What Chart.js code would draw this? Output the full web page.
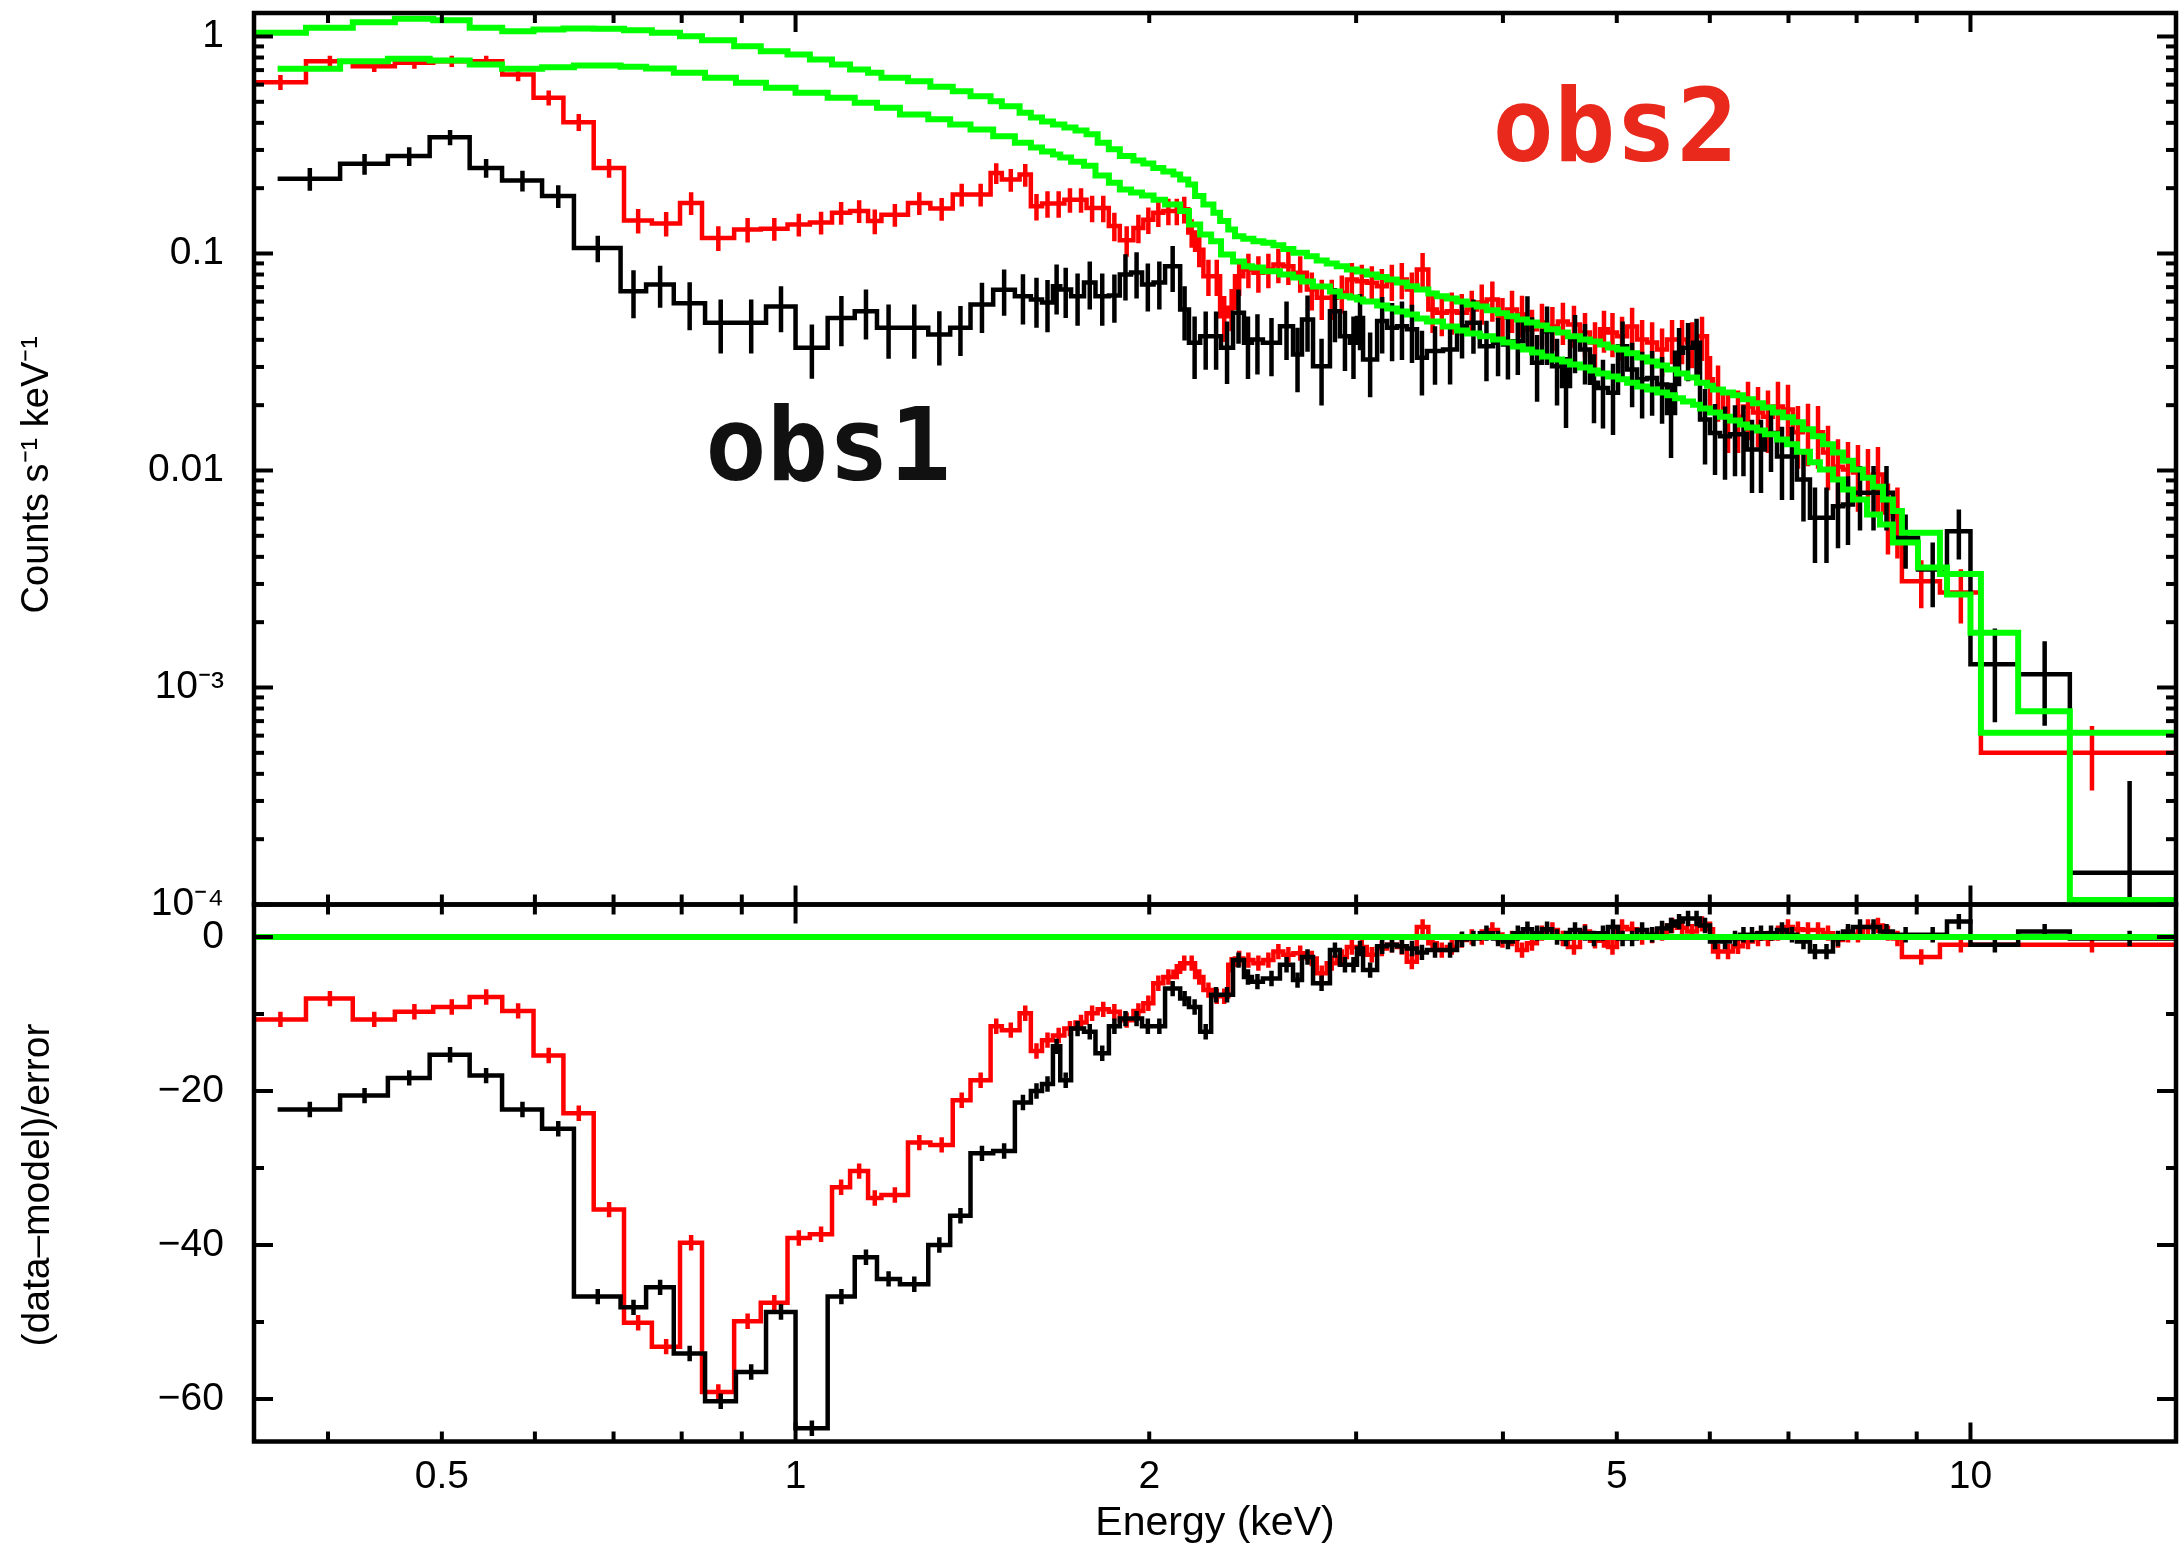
<!DOCTYPE html>
<html>
<head>
<meta charset="utf-8">
<script src="https://cdn.jsdelivr.net/npm/chart.js@4.4.1/dist/chart.umd.min.js"></script>
<style>
html,body{margin:0;padding:0;background:#fff;}
#wrap{position:relative;width:2180px;height:1548px;background:#fff;}
canvas{position:absolute;left:0;top:0;}
</style>
</head>
<body>
<div id="wrap">
<canvas id="bot" width="2180" height="1548"></canvas>
<canvas id="top" width="2180" height="1548"></canvas>
</div>
<script>
// ---------------- axis ranges & ticks ----------------
const X_MIN = 0.346, X_MAX = 14.96;
const Y_TOP_MIN = 1e-4, Y_TOP_MAX = 1.283;
const Y_BOT_MIN = -65.52, Y_BOT_MAX = 4.22;

const xTickValues = [0.5, 1, 2, 5, 10];
const xTickLabels = ['0.5', '1', '2', '5', '10'];
const xMajorMarks = [1, 10];
const xMinorMarks = [0.4, 0.5, 0.6, 0.7, 0.8, 0.9, 2, 3, 4, 5, 6, 7, 8, 9];

const yTopTickValues = [1, 0.1, 0.01, 0.001, 0.0001];
const yTopTickLabels = ['1', '0.1', '0.01', '10\u207B\u00B3', '10\u207B\u2074'];
const yTopMinorMarks = [0.0002,0.0003,0.0004,0.0005,0.0006,0.0007,0.0008,0.0009,
  0.002,0.003,0.004,0.005,0.006,0.007,0.008,0.009,
  0.02,0.03,0.04,0.05,0.06,0.07,0.08,0.09,
  0.2,0.3,0.4,0.5,0.6,0.7,0.8,0.9];

const yBotTickValues = [0, -20, -40, -60];
const yBotTickLabels = ['0', '\u221220', '\u221240', '\u221260'];
const yBotMinorMarks = [-10, -30, -50];

// ---------------- obs1 (black) ----------------
const obs1Edges = [0.3624, 0.4096, 0.4498, 0.4882, 0.5280, 0.5626, 0.6085, 0.6477, 0.7097, 0.7461,
 0.7877, 0.8375, 0.8897, 0.9438, 1.000, 1.065, 1.123, 1.173, 1.227, 1.297,
 1.354, 1.409, 1.473, 1.537, 1.586, 1.621, 1.656, 1.680, 1.716, 1.760,
 1.800, 1.848, 1.888, 1.930, 1.972, 2.017, 2.063, 2.125, 2.162, 2.210,
 2.258, 2.302, 2.357, 2.408, 2.446, 2.499, 2.584, 2.651, 2.698, 2.757,
 2.850, 2.906, 2.964, 3.005, 3.041, 3.126, 3.188, 3.250, 3.314, 3.380,
 3.446, 3.557, 3.656, 3.728, 3.823, 3.923, 4.001, 4.078, 4.159, 4.235,
 4.319, 4.404, 4.491, 4.562, 4.652, 4.744, 4.819, 4.914, 5.012, 5.102,
 5.203, 5.306, 5.411, 5.517, 5.605, 5.693, 5.806, 5.886, 6.002, 6.121,
 6.242, 6.365, 6.453, 6.581, 6.685, 6.844, 6.979, 7.117, 7.301, 7.445,
 7.638, 7.789, 7.943, 8.164, 8.375, 8.590, 9.023, 9.550, 10.00, 10.98,
 12.15, 15.17];

const obs1Rate = [0.221, 0.259, 0.281, 0.343, 0.248, 0.217, 0.184, 0.106, 0.067, 0.072,
 0.059, 0.048, 0.048, 0.057, 0.0368, 0.0505, 0.0542, 0.0455, 0.0455, 0.0423,
 0.0455, 0.0582, 0.068, 0.0636, 0.0614, 0.0594, 0.0707, 0.0682, 0.0636, 0.0735,
 0.0636, 0.0640, 0.0800, 0.0817, 0.0720, 0.0735, 0.0874, 0.0552, 0.0388, 0.0416,
 0.0416, 0.0368, 0.0533, 0.0388, 0.0401, 0.0388, 0.0462, 0.0342, 0.0496, 0.0302,
 0.0542, 0.0416, 0.0388, 0.0505, 0.0325, 0.0488, 0.0455, 0.0462, 0.0447, 0.0331,
 0.0355, 0.0361, 0.0462, 0.0479, 0.0374, 0.0388, 0.0381, 0.0394, 0.0496, 0.0314,
 0.0438, 0.0302, 0.0245, 0.0401, 0.0361, 0.0254, 0.0240, 0.0228, 0.0374, 0.0292,
 0.0263, 0.0267, 0.0249, 0.0184, 0.0349, 0.0368, 0.0388, 0.0172, 0.0149, 0.0144,
 0.0147, 0.0147, 0.0125, 0.0125, 0.0149, 0.0116, 0.0116, 0.00909, 0.00605, 0.00605,
 0.00685, 0.00697, 0.00789, 0.00789, 0.00789, 0.00490, 0.00350, 0.00525, 0.00128, 0.00115,
 0.000140];

const obs1RelErr = [0.12, 0.11, 0.10, 0.08, 0.10, 0.11, 0.12, 0.14, 0.25, 0.22,
 0.25, 0.28, 0.28, 0.24, 0.28, 0.26, 0.26, 0.28, 0.28, 0.28,
 0.26, 0.26, 0.24, 0.26, 0.26, 0.27, 0.26, 0.26, 0.27, 0.25,
 0.27, 0.25, 0.24, 0.24, 0.25, 0.25, 0.24, 0.28, 0.32, 0.30,
 0.30, 0.32, 0.28, 0.32, 0.31, 0.30, 0.30, 0.33, 0.29, 0.34,
 0.28, 0.31, 0.32, 0.29, 0.33, 0.29, 0.30, 0.30, 0.30, 0.33,
 0.30, 0.31, 0.29, 0.28, 0.31, 0.30, 0.31, 0.30, 0.28, 0.34,
 0.30, 0.34, 0.36, 0.30, 0.31, 0.35, 0.35, 0.36, 0.30, 0.33,
 0.34, 0.33, 0.34, 0.38, 0.30, 0.30, 0.29, 0.38, 0.36, 0.37,
 0.36, 0.36, 0.37, 0.37, 0.34, 0.37, 0.37, 0.36, 0.38, 0.38,
 0.36, 0.35, 0.33, 0.33, 0.33, 0.28, 0.33, 0.26, 0.46, 0.42,
 1.65];

const obs1Model = [0.710, 0.769, 0.789, 0.775, 0.743, 0.710, 0.722, 0.735, 0.725, 0.712,
 0.680, 0.645, 0.612, 0.580, 0.550, 0.522, 0.495, 0.469, 0.437, 0.415,
 0.393, 0.373, 0.347, 0.324, 0.308, 0.295, 0.286, 0.277, 0.265, 0.254,
 0.229, 0.212, 0.197, 0.191, 0.185, 0.177, 0.168, 0.157, 0.136, 0.1224,
 0.1139, 0.0990, 0.0918, 0.0874, 0.0862, 0.0829, 0.0800, 0.0775, 0.0743, 0.0705,
 0.0668, 0.0636, 0.0627, 0.0614, 0.0601, 0.0576, 0.0558, 0.0540, 0.0524, 0.0502,
 0.0486, 0.0461, 0.0442, 0.0428, 0.0415, 0.0401, 0.0389, 0.0373, 0.0361, 0.0350,
 0.0335, 0.0325, 0.0318, 0.0308, 0.0298, 0.0289, 0.0280, 0.0271, 0.0263, 0.0254,
 0.0244, 0.0236, 0.0229, 0.0222, 0.0215, 0.0208, 0.0201, 0.0193, 0.0185, 0.0177,
 0.0170, 0.0163, 0.0158, 0.0153, 0.0147, 0.0139, 0.0132, 0.0122, 0.0109, 0.0101,
 0.00909, 0.00818, 0.00735, 0.00627, 0.00564, 0.00466, 0.00357, 0.00268, 0.00179, 0.000778,
 0.000105];

const obs1Resid = [-22.4, -20.6, -18.3, -15.3, -18.0, -22.4, -24.9, -46.7, -48.1, -45.5,
 -54.1, -60.3, -56.5, -48.7, -63.8, -46.7, -41.6, -44.4, -45.1, -40.0,
 -36.2, -28.1, -27.8, -21.5, -20.0, -19.1, -14.2, -18.6, -11.9, -12.3,
 -15.1, -11.6, -10.6, -10.6, -11.6, -11.6, -6.7, -8.0, -9.1, -12.3,
 -7.5, -7.5, -3.0, -5.2, -5.8, -5.4, -3.6, -5.6, -2.6, -6.0,
 -1.7, -3.6, -3.6, -1.5, -4.3, -1.2, -1.0, -1.2, -1.5, -2.0,
 -1.7, -1.7, -0.3, -0.2, 0.5, -0.2, -0.6, 0.5, 1.0, 0.5,
 1.0, 0.0, -0.2, 0.9, 0.5, -0.2, 0.5, 1.3, -0.2, -0.2,
 0.9, 0.3, 1.1, 1.5, 2.0, 2.4, 2.4, 1.5, -0.6, -0.6,
 -0.2, 0.3, 0.3, 0.5, 0.5, 0.9, 0.3, -0.6, -1.9, -1.9,
 -0.2, 0.7, 1.3, 1.3, 0.7, 0.3, 0.3, 2.0, -1.0, 0.7,
 -0.2];

// ---------------- obs2 (red) ----------------
const obs2Edges = [0.3457, 0.3831, 0.4199, 0.4560, 0.4916, 0.5280, 0.5628, 0.5984, 0.6345, 0.6733,
 0.7145, 0.7546, 0.7974, 0.8325, 0.8866, 0.9341, 0.9844, 1.0285, 1.0741, 1.1128,
 1.1527, 1.1833, 1.2465, 1.3024, 1.3608, 1.409, 1.4656, 1.4982, 1.5513, 1.5859,
 1.621, 1.656, 1.6935, 1.7309, 1.7688, 1.8077, 1.8477, 1.888, 1.939, 1.977,
 2.016, 2.056, 2.097, 2.125, 2.159, 2.188, 2.224, 2.268, 2.298, 2.335,
 2.366, 2.405, 2.453, 2.501, 2.551, 2.601, 2.653, 2.724, 2.777, 2.832,
 2.888, 2.946, 3.004, 3.063, 3.124, 3.186, 3.249, 3.313, 3.379, 3.456,
 3.514, 3.583, 3.654, 3.726, 3.800, 3.875, 3.961, 4.032, 4.112, 4.193,
 4.276, 4.360, 4.455, 4.543, 4.652, 4.744, 4.838, 4.914, 5.002, 5.102,
 5.203, 5.306, 5.411, 5.517, 5.627, 5.738, 5.851, 5.967, 6.038, 6.157,
 6.279, 6.403, 6.530, 6.659, 6.790, 6.925, 7.062, 7.201, 7.345, 7.490,
 7.638, 7.789, 7.943, 8.100, 8.260, 8.424, 8.590, 8.743, 9.419, 10.207,
 15.17];

const obs2Rate = [0.616, 0.769, 0.730, 0.756, 0.769, 0.769, 0.668, 0.522, 0.403, 0.248,
 0.142, 0.1375, 0.171, 0.118, 0.129, 0.130, 0.136, 0.139, 0.154, 0.157,
 0.141, 0.151, 0.171, 0.161, 0.187, 0.187, 0.235, 0.219, 0.231, 0.165,
 0.170, 0.170, 0.177, 0.177, 0.162, 0.162, 0.134, 0.115, 0.131, 0.143,
 0.154, 0.157, 0.157, 0.160, 0.125, 0.104, 0.0786, 0.0786, 0.0514, 0.0562,
 0.0786, 0.0844, 0.0815, 0.0844, 0.0890, 0.0874, 0.0815, 0.0682, 0.0625, 0.0625,
 0.0659, 0.0759, 0.0745, 0.0733, 0.0707, 0.0745, 0.0759, 0.0682, 0.0844, 0.0552,
 0.0533, 0.0542, 0.0533, 0.0552, 0.0594, 0.0614, 0.0507, 0.0552, 0.0524, 0.0447,
 0.0481, 0.0461, 0.0486, 0.0471, 0.0432, 0.0389, 0.0447, 0.0432, 0.0415, 0.0461,
 0.0401, 0.0389, 0.0361, 0.0401, 0.0401, 0.0389, 0.0415, 0.0263, 0.0236, 0.0177,
 0.0177, 0.0197, 0.0185, 0.0177, 0.0197, 0.0191, 0.0150, 0.0154, 0.0150, 0.0121,
 0.0104, 0.0101, 0.00979, 0.00938, 0.00958, 0.00640, 0.00614, 0.00309, 0.00274, 0.000500];

const obs2RelErr = [0.08, 0.06, 0.06, 0.06, 0.06, 0.06, 0.07, 0.08, 0.09, 0.10,
 0.13, 0.13, 0.12, 0.13, 0.13, 0.12, 0.12, 0.12, 0.12, 0.12,
 0.13, 0.12, 0.12, 0.12, 0.12, 0.12, 0.11, 0.12, 0.12, 0.14,
 0.14, 0.14, 0.13, 0.13, 0.14, 0.14, 0.15, 0.16, 0.15, 0.14,
 0.14, 0.14, 0.14, 0.14, 0.15, 0.17, 0.19, 0.19, 0.24, 0.22,
 0.19, 0.18, 0.19, 0.18, 0.18, 0.18, 0.19, 0.20, 0.21, 0.21,
 0.20, 0.19, 0.19, 0.19, 0.20, 0.19, 0.19, 0.20, 0.19, 0.22,
 0.22, 0.22, 0.22, 0.22, 0.21, 0.21, 0.23, 0.22, 0.22, 0.23,
 0.22, 0.23, 0.22, 0.22, 0.23, 0.24, 0.22, 0.23, 0.23, 0.22,
 0.23, 0.24, 0.25, 0.23, 0.23, 0.24, 0.23, 0.28, 0.29, 0.32,
 0.32, 0.30, 0.31, 0.32, 0.30, 0.30, 0.32, 0.32, 0.32, 0.33,
 0.34, 0.34, 0.34, 0.34, 0.34, 0.36, 0.36, 0.25, 0.28, 0.33];

const obs2Model = [1.040, 1.097, 1.164, 1.206, 1.189, 1.097, 1.058, 1.077, 1.089, 1.085,
 1.069, 1.040, 1.003, 0.961, 0.902, 0.856, 0.826, 0.783, 0.743, 0.705,
 0.680, 0.645, 0.622, 0.586, 0.560, 0.531, 0.503, 0.477, 0.445, 0.423,
 0.406, 0.393, 0.381, 0.369, 0.354, 0.324, 0.302, 0.281, 0.268, 0.260,
 0.248, 0.239, 0.231, 0.219, 0.208, 0.184, 0.168, 0.154, 0.141, 0.129,
 0.120, 0.117, 0.114, 0.112, 0.109, 0.105, 0.1007, 0.0970, 0.0929, 0.0900,
 0.0874, 0.0844, 0.0826, 0.0800, 0.0779, 0.0759, 0.0735, 0.0707, 0.0682, 0.0654,
 0.0636, 0.0620, 0.0601, 0.0582, 0.0570, 0.0547, 0.0530, 0.0514, 0.0496, 0.0481,
 0.0466, 0.0447, 0.0432, 0.0415, 0.0401, 0.0393, 0.0381, 0.0369, 0.0361, 0.0347,
 0.0332, 0.0318, 0.0305, 0.0292, 0.0280, 0.0268, 0.0254, 0.0246, 0.0236, 0.0229,
 0.0222, 0.0213, 0.0204, 0.0195, 0.0185, 0.0176, 0.0167, 0.0155, 0.0144, 0.0132,
 0.0121, 0.0111, 0.0101, 0.00925, 0.00841, 0.00735, 0.00650, 0.00516, 0.00333, 0.000618];

const obs2Resid = [-10.7, -8.0, -10.7, -9.7, -9.1, -7.8, -9.6, -15.4, -22.9, -35.4,
 -50.1, -53.2, -39.7, -59.1, -49.9, -47.5, -39.1, -38.6, -32.5, -30.4,
 -33.9, -33.5, -26.7, -27.0, -21.2, -18.6, -11.6, -12.1, -9.9, -14.8,
 -13.4, -12.8, -11.9, -11.1, -9.9, -9.4, -9.7, -10.8, -9.6, -8.6,
 -6.0, -5.2, -4.5, -3.4, -3.4, -5.2, -6.9, -7.7, -7.7, -3.6,
 -2.8, -3.0, -3.4, -3.0, -1.9, -2.3, -2.1, -2.8, -4.7, -3.4,
 -2.6, -1.3, -1.3, -2.3, -1.5, -1.0, -1.3, -3.2, 1.3, -0.8,
 -1.7, -1.3, -0.4, 0.0, 0.0, 0.9, -0.4, -0.2, -1.7, -0.8,
 0.5, 0.9, -0.2, -1.3, 0.7, -0.5, -0.4, -1.3, 1.3, 1.0,
 0.0, 0.2, 0.5, 1.5, 1.2, 0.7, 1.7, 1.0, -1.9, -1.9,
 -1.2, -0.6, -0.2, -0.2, 0.5, 1.3, 1.0, 0.9, 0.9, 0.5,
 -0.4, 0.3, 0.3, 1.3, 1.5, 0.5, -0.2, -2.6, -1.0, -1.0];

const residErr = 1;          // (data-model)/error bars are +/-1 sigma
const zeroLevel = [0, 0];    // green zero line of the residual panel

// hand-written labels: text, energy (keV) of left edge, rate at baseline
const noteText = ['obs1', 'obs2'];
const noteE = [0.838, 3.92];
const noteV = [0.0090, 0.266];

// ---------------- helpers ----------------
const GREEN = '#00FF00', RED = '#FF0000', BLACK = '#000000';

function histPoints(edges, vals) {
  const pts = vals.map((v, i) => ({x: edges[i], y: v}));
  pts.push({x: edges[edges.length - 1], y: vals[vals.length - 1]});
  return pts;
}
function errPoints(edges, vals, lo, hi) {
  const pts = [];
  vals.forEach((v, i) => {
    const c = (edges[i] + edges[i + 1]) / 2;
    pts.push({x: c, y: lo(v, i)}, {x: c, y: hi(v, i)}, {x: c, y: null});
  });
  return pts;
}

const framePlugin = {
  id: 'frame',
  afterDatasetsDraw(chart, args, o) {
    const {ctx, chartArea: a} = chart;
    const xs = chart.scales.x, ys = chart.scales.y;
    ctx.save();
    ctx.strokeStyle = '#000';
    ctx.lineCap = 'butt';
    ctx.lineWidth = o.tickWidth;
    const seg = (x1, y1, x2, y2) => { ctx.beginPath(); ctx.moveTo(x1, y1); ctx.lineTo(x2, y2); ctx.stroke(); };
    const xt = (vals, len) => vals.forEach(v => {
      const p = xs.getPixelForValue(v);
      if (p < a.left || p > a.right) return;
      seg(p, a.bottom, p, a.bottom - len); seg(p, a.top, p, a.top + len);
    });
    const yt = (vals, len) => vals.forEach(v => {
      const p = ys.getPixelForValue(v);
      if (p < a.top - 1 || p > a.bottom + 1) return;
      seg(a.left, p, a.left + len, p); seg(a.right, p, a.right - len, p);
    });
    xt(o.xMinor, o.minorLen); xt(o.xMajor, o.majorLen);
    yt(o.yMinor, o.minorLen); yt(o.yMajor, o.majorLen);
    ctx.lineWidth = o.frameWidth;
    ctx.strokeRect(a.left, a.top, a.right - a.left, a.bottom - a.top);
    // rotated y-axis title
    if (o.yTitle) {
      ctx.save();
      ctx.translate(o.yTitleX, (a.top + a.bottom) / 2 + o.yTitleShift);
      ctx.rotate(-Math.PI / 2);
      ctx.font = o.yTitleFont;
      ctx.fillStyle = '#000';
      ctx.textAlign = 'center';
      ctx.textBaseline = 'middle';
      ctx.fillText(o.yTitle, 0, 0);
      ctx.restore();
    }
    ctx.restore();
  }
};

const notePlugin = {
  id: 'notes',
  afterDatasetsDraw(chart, args, o) {
    if (!o.items) return;
    const {ctx} = chart;
    const xs = chart.scales.x, ys = chart.scales.y;
    ctx.save();
    o.items.forEach(it => {
      ctx.font = it.font;
      ctx.fillStyle = it.color;
      ctx.textAlign = 'left';
      ctx.textBaseline = 'alphabetic';
      ctx.fillText(it.text, xs.getPixelForValue(it.e), ys.getPixelForValue(it.v));
    });
    ctx.restore();
  }
};

const FONT = "'Liberation Sans', Arial, Helvetica, sans-serif";
Chart.defaults.font.family = FONT;
Chart.defaults.color = '#000';

const zeroPads = s => { s.paddingTop = 0; s.paddingBottom = 0; s.paddingLeft = 0; s.paddingRight = 0; };

function baseOptions() {
  return {
    responsive: false, animation: false, devicePixelRatio: 1, events: [],
    elements: {point: {radius: 0, hoverRadius: 0}, line: {tension: 0, borderCapStyle: 'butt', borderJoinStyle: 'miter'}},
  };
}

// ---------------- top panel ----------------
const dataLineW = 4.5, modelLineW = 6;
new Chart(document.getElementById('top'), {
  type: 'line',
  data: {datasets: [
    {label: 'model obs2', data: histPoints(obs2Edges, obs2Model), borderColor: GREEN, borderWidth: modelLineW, stepped: true, order: 0},
    {label: 'model obs1', data: histPoints(obs1Edges, obs1Model), borderColor: GREEN, borderWidth: modelLineW, stepped: true, order: 1},
    {label: 'obs1 err', data: errPoints(obs1Edges, obs1Rate, (v, i) => Math.max(v - v * obs1RelErr[i], 1e-7), (v, i) => v + v * obs1RelErr[i]), borderColor: BLACK, borderWidth: dataLineW, order: 2},
    {label: 'obs1', data: histPoints(obs1Edges, obs1Rate), borderColor: BLACK, borderWidth: dataLineW, stepped: true, order: 3},
    {label: 'obs2 err', data: errPoints(obs2Edges, obs2Rate, (v, i) => Math.max(v - v * obs2RelErr[i], 1e-7), (v, i) => v + v * obs2RelErr[i]), borderColor: RED, borderWidth: dataLineW, order: 4},
    {label: 'obs2', data: histPoints(obs2Edges, obs2Rate), borderColor: RED, borderWidth: dataLineW, stepped: true, order: 5}
  ]},
  options: Object.assign(baseOptions(), {
    layout: {padding: {left: 0, top: 13, right: 4, bottom: 1548 - 904.5}},
    scales: {
      x: {type: 'logarithmic', min: X_MIN, max: X_MAX, bounds: 'data', display: false},
      y: {type: 'logarithmic', min: Y_TOP_MIN, max: Y_TOP_MAX, bounds: 'data', position: 'left',
        afterFit: s => { s.width = 254; zeroPads(s); },
        afterBuildTicks: s => { s.ticks = yTopTickValues.map(v => ({value: v})); },
        grid: {display: false, drawTicks: false}, border: {display: false},
        ticks: {autoSkip: false, padding: 30, font: {size: 39}, callback: (v, i) => yTopTickLabels[i]},
        title: {display: false}
      }
    },
    plugins: {
      legend: {display: false}, tooltip: {enabled: false},
      frame: {xMajor: xMajorMarks, xMinor: xMinorMarks, yMajor: yTopTickValues, yMinor: yTopMinorMarks,
              majorLen: 19, minorLen: 10, tickWidth: 4, frameWidth: 4.5,
              yTitle: 'Counts s\u207B\u00B9 keV\u207B\u00B9', yTitleX: 38, yTitleShift: 16, yTitleFont: '38px ' + FONT},
      notes: {items: [
        {text: noteText[0], e: noteE[0], v: noteV[0], color: '#111111', font: "bold 102px 'DejaVu Sans Mono'"},
        {text: noteText[1], e: noteE[1], v: noteV[1], color: '#E8291C', font: "bold 102px 'DejaVu Sans Mono'"}
      ]}
    }
  }),
  plugins: [framePlugin, notePlugin]
});

// ---------------- bottom panel ----------------
new Chart(document.getElementById('bot'), {
  type: 'line',
  data: {datasets: [
    {label: 'zero', data: [{x: X_MIN, y: zeroLevel[0]}, {x: X_MAX, y: zeroLevel[1]}], borderColor: GREEN, borderWidth: modelLineW, order: 0},
    {label: 'obs1 res err', data: errPoints(obs1Edges, obs1Resid, v => v - residErr, v => v + residErr), borderColor: BLACK, borderWidth: dataLineW, order: 1},
    {label: 'obs1 res', data: histPoints(obs1Edges, obs1Resid), borderColor: BLACK, borderWidth: dataLineW, stepped: true, order: 2},
    {label: 'obs2 res err', data: errPoints(obs2Edges, obs2Resid, v => v - residErr, v => v + residErr), borderColor: RED, borderWidth: dataLineW, order: 3},
    {label: 'obs2 res', data: histPoints(obs2Edges, obs2Resid), borderColor: RED, borderWidth: dataLineW, stepped: true, order: 4}
  ]},
  options: Object.assign(baseOptions(), {
    layout: {padding: {left: 0, top: 904.5, right: 4, bottom: 0}},
    scales: {
      x: {type: 'logarithmic', min: X_MIN, max: X_MAX, bounds: 'data', position: 'bottom',
        afterFit: s => { s.height = 106.5; zeroPads(s); },
        afterBuildTicks: s => { s.ticks = xTickValues.map(v => ({value: v})); },
        grid: {display: false, drawTicks: false}, border: {display: false},
        ticks: {autoSkip: false, maxRotation: 0, padding: 12, font: {size: 39}, callback: (v, i) => xTickLabels[i]},
        title: {display: true, text: 'Energy (keV)', font: {size: 41}, padding: {top: 0, bottom: 0}}
      },
      y: {type: 'linear', min: Y_BOT_MIN, max: Y_BOT_MAX, bounds: 'data', position: 'left',
        afterFit: s => { s.width = 254; zeroPads(s); },
        afterBuildTicks: s => { s.ticks = yBotTickValues.map(v => ({value: v})); },
        grid: {display: false, drawTicks: false}, border: {display: false},
        ticks: {autoSkip: false, padding: 30, font: {size: 39}, callback: (v, i) => yBotTickLabels[i]},
        title: {display: false}
      }
    },
    plugins: {
      legend: {display: false}, tooltip: {enabled: false},
      frame: {xMajor: xMajorMarks, xMinor: xMinorMarks, yMajor: yBotTickValues, yMinor: yBotMinorMarks,
              majorLen: 19, minorLen: 10, tickWidth: 4, frameWidth: 4.5,
              yTitle: '(data\u2013model)/error', yTitleX: 38, yTitleShift: 12, yTitleFont: '39px ' + FONT},
      notes: {}
    }
  }),
  plugins: [framePlugin, notePlugin]
});
</script>
</body>
</html>
